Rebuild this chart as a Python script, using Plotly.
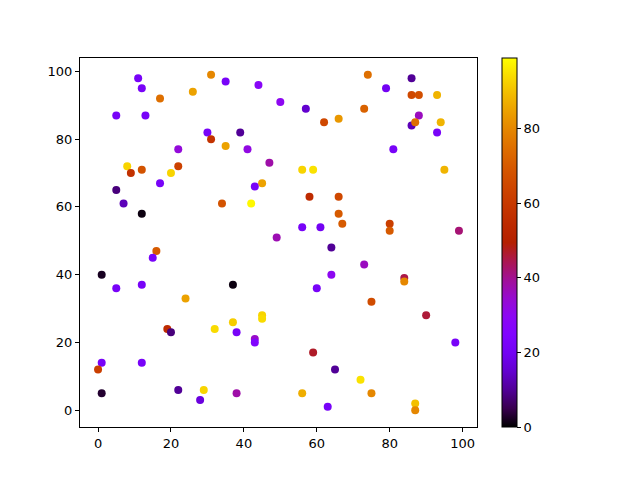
import numpy as np
import plotly.graph_objects as go

x = [11, 12, 17, 5, 13, 22, 8, 9, 12, 20, 22, 17, 5, 7, 12, 16,
     31, 35, 44, 26, 50, 30, 31, 39, 35, 41, 47, 45, 43, 34, 42, 49,
     74, 57, 73, 62, 66, 56, 59, 58, 66, 66, 67, 56, 61, 64,
     86, 79, 86, 88, 93, 88, 86, 87, 94, 93, 81, 95, 80, 80, 99,
     15, 1, 5, 12, 24, 19, 20, 1, 0, 12, 1, 22,
     37, 45, 45, 37, 32, 38, 43, 43, 29, 28, 38,
     73, 64, 60, 75, 59, 65, 72, 56, 75, 63,
     84, 84, 90, 98, 87, 87]
y = [98, 95, 92, 87, 87, 77, 72, 70, 71, 70, 72, 67, 65, 61, 58, 47,
     99, 97, 96, 94, 91, 82, 80, 82, 78, 77, 73, 67, 66, 61, 61, 51,
     99, 89, 89, 85, 86, 71, 71, 63, 63, 58, 55, 54, 54, 48,
     98, 95, 93, 93, 93, 87, 84, 85, 85, 82, 77, 71, 55, 53, 53,
     45, 40, 36, 37, 33, 24, 23, 14, 12, 14, 5, 6,
     37, 28, 27, 26, 24, 23, 21, 20, 6, 3, 5,
     43, 40, 36, 32, 17, 12, 9, 5, 5, 1,
     39, 38, 28, 20, 2, 0]
c = [22, 22, 75, 22, 22, 33, 93, 57, 68, 93, 63, 22, 8, 13, 1, 70,
     80, 22, 28, 85, 30, 22, 58, 10, 85, 32, 38, 85, 22, 68, 98, 37,
     75, 15, 72, 65, 83, 93, 95, 55, 65, 70, 70, 22, 20, 10,
     10, 20, 65, 67, 88, 36, 13, 75, 88, 22, 22, 88, 62, 70, 42,
     22, 2, 22, 22, 85, 55, 8, 22, 62, 22, 3, 10,
     1, 93, 94, 92, 94, 22, 35, 25, 93, 17, 38,
     36, 30, 22, 66, 47, 10, 95, 87, 80, 22,
     45, 80, 46, 22, 90, 80]

# gnuplot colormap
ts = np.linspace(0, 1, 21)
scale = []
for t in ts:
    r = np.sqrt(t); g = t ** 3; b = max(0.0, np.sin(2 * np.pi * t))
    scale.append([float(t), f"rgb({int(round(r*255))},{int(round(g*255))},{int(round(b*255))})"])

fig = go.Figure(go.Scatter(
    x=x, y=y, mode="markers",
    marker=dict(size=8, color=c, colorscale=scale, cmin=0, cmax=99,
                line=dict(width=0),
                colorbar=dict(x=1.063, xanchor="left", xpad=0, ypad=0,
                              y=0.5, yanchor="middle", len=1, lenmode="fraction",
                              thickness=15, outlinewidth=1, outlinecolor="black",
                              tickmode="array", tickvals=[0, 20, 40, 60, 80],
                              ticks="outside", ticklen=4, tickcolor="black",
                              tickfont=dict(family="DejaVu Sans", size=13, color="black"))),
))
axis = dict(showgrid=False, zeroline=False, showline=True, linecolor="black", linewidth=1,
            mirror=True, ticks="outside", ticklen=4, tickcolor="black",
            tickfont=dict(family="DejaVu Sans", size=13, color="black"))
fig.update_xaxes(range=[-4.95, 103.95], tickvals=[0, 20, 40, 60, 80, 100], **axis)
fig.update_yaxes(range=[-4.95, 103.95], tickvals=[0, 20, 40, 60, 80, 100], **axis)
fig.update_layout(width=640, height=480, plot_bgcolor="white", paper_bgcolor="white",
                  margin=dict(l=80, r=163, t=58, b=53), showlegend=False)
fig.write_html("out.html", config={"displayModeBar": False},
               post_script="document.body.style.margin='0';document.body.style.overflow='hidden';")
